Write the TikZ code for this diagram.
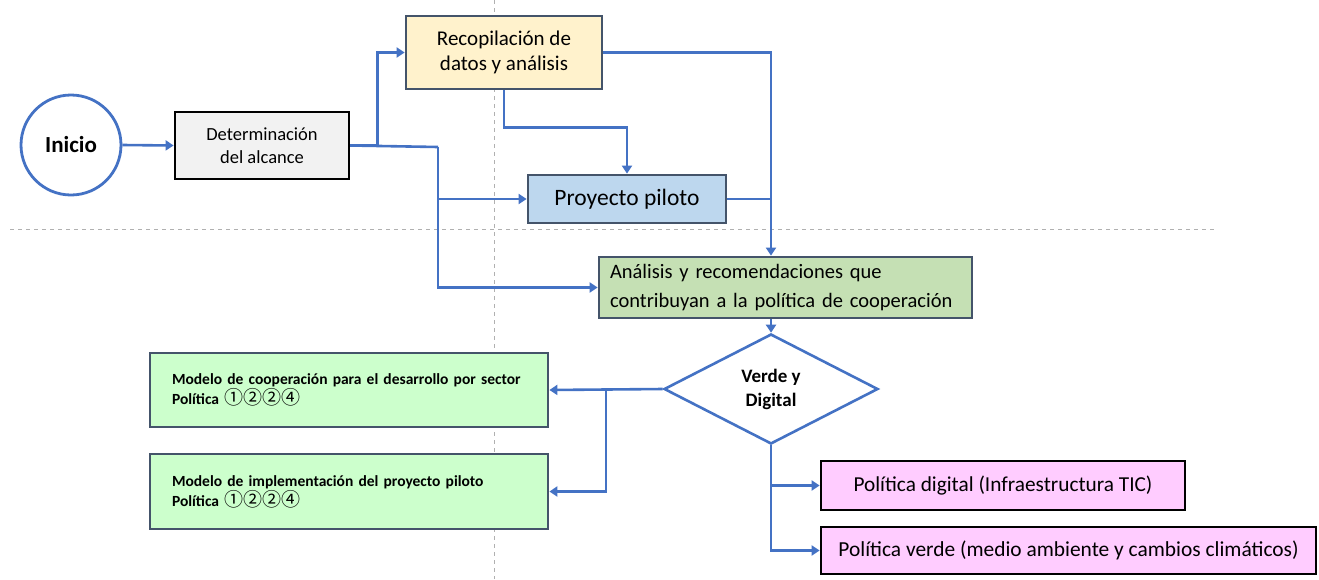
\documentclass[tikz,border=0pt]{standalone}
\usepackage{fontspec}
\setmainfont{Carlito}
\newfontfamily\cjk{Noto Sans CJK SC}
\usetikzlibrary{shapes.geometric,arrows.meta}
\definecolor{lineblue}{HTML}{4472C4}
\definecolor{slate}{HTML}{44546A}
\definecolor{dashgray}{HTML}{B0B0B0}
\definecolor{fillgray}{HTML}{F2F2F2}
\definecolor{fillyellow}{HTML}{FFF2CC}
\definecolor{fillblue}{HTML}{BDD7EE}
\definecolor{fillgreen}{HTML}{C5E0B4}
\definecolor{filllight}{HTML}{CCFFCC}
\definecolor{fillpink}{HTML}{FFCCFF}
\newcommand{\fs}[1]{\fontsize{#1}{1.22\dimexpr#1pt\relax}\selectfont}
\newcommand{\circnums}{{\cjk\mdseries\fontsize{19}{19}\selectfont ①②②④}}
\begin{document}
\begin{tikzpicture}[x=1pt,y=-1pt,
  box/.style={draw=slate, line width=2.8pt, inner sep=0pt, align=center, rectangle},
  blackbox/.style={box, draw=black},
  conn/.style={draw=lineblue, line width=2.6pt, -{Triangle[length=8pt,width=10pt]}},
  plain/.style={draw=lineblue, line width=2.6pt},
  guide/.style={draw=dashgray, line width=1pt, dash pattern=on 4pt off 4pt}]
\useasboundingbox (0,0) rectangle (1319,579);
% guide lines
\draw[guide] (10,229) -- (1215,229);
\draw[guide] (494,0) -- (494,579);
% nodes
\node[circle, draw=lineblue, line width=2.8pt, minimum size=100pt, inner sep=0pt, font=\fs{23}\bfseries] (ini) at (71,145) {Inicio};
\node[blackbox, fill=fillgray, minimum width=174pt, minimum height=67pt, font=\fs{18.5}] (det) at (262,145.5) {Determinación\\del alcance};
\node[box, fill=fillyellow, minimum width=196pt, minimum height=73pt, font=\fs{21}] (rec) at (504,52.5) {Recopilación de\\datos y análisis};
\node[box, fill=fillblue, minimum width=198pt, minimum height=48pt, font=\fs{23.5}] (pp) at (627,199) {Proyecto piloto};
\node[box, fill=fillgreen, minimum width=373pt, minimum height=61pt, text width=351pt, align=left, font=\fontsize{20.5}{29}\selectfont] (an) at (785.5,287.5) {Análisis y recomendaciones que\\contribuyan a la política de cooperación};
\node[diamond, draw=lineblue, line width=2.6pt, fill=white, minimum width=214pt, minimum height=110pt, inner sep=0pt, align=center, font=\fontsize{19}{24}\selectfont\bfseries] (dia) at (771,389) {Verde y\\Digital};
\node[box, fill=filllight, minimum width=398pt, minimum height=74pt, text width=354pt, align=left, font=\fontsize{15.5}{20}\selectfont\bfseries] (mc) at (349,390) {Modelo de cooperación para el desarrollo por sector\\Política \circnums};
\node[box, fill=filllight, minimum width=398pt, minimum height=75pt, text width=354pt, align=left, font=\fontsize{15.5}{20}\selectfont\bfseries] (mi) at (349,491.5) {Modelo de implementación del proyecto piloto\\Política \circnums};
\node[blackbox, fill=fillpink, minimum width=364pt, minimum height=49pt, font=\fs{21.3}] (pd) at (1003,485.5) {Política digital (Infraestructura TIC)};
\node[blackbox, fill=fillpink, minimum width=495pt, minimum height=47pt, font=\fs{21.4}] (pv) at (1068.5,550.5) {Política verde (medio ambiente y cambios climáticos)};
% junctions
\coordinate (j1) at (438,147);
\coordinate (j2) at (606,389);
% connectors
\draw[conn] (ini.east) -- (det.west);
\draw[conn] (det.east) -- ++(27,0) |- (rec.west);
\draw[plain] (det.east) -- (j1);
\draw[conn] (j1) |- (pp.west);
\draw[conn] (j1) |- (an.west);
\draw[conn] (rec.south) -- ++(0,37) -| (pp.north);
\draw[conn] (rec.east) -| (dia.north |- an.north);
\draw[plain] (pp.east) -- (pp.east -| dia.north);
\draw[conn] (dia.north |- an.south) -- (dia.north);
\draw[conn] (dia.west) -- (mc.east);
\draw[conn] (j2) |- (mi.east);
\draw[conn] (dia.south) |- (pd.west);
\draw[conn] (dia.south) |- (pv.west);
\end{tikzpicture}
\end{document}
